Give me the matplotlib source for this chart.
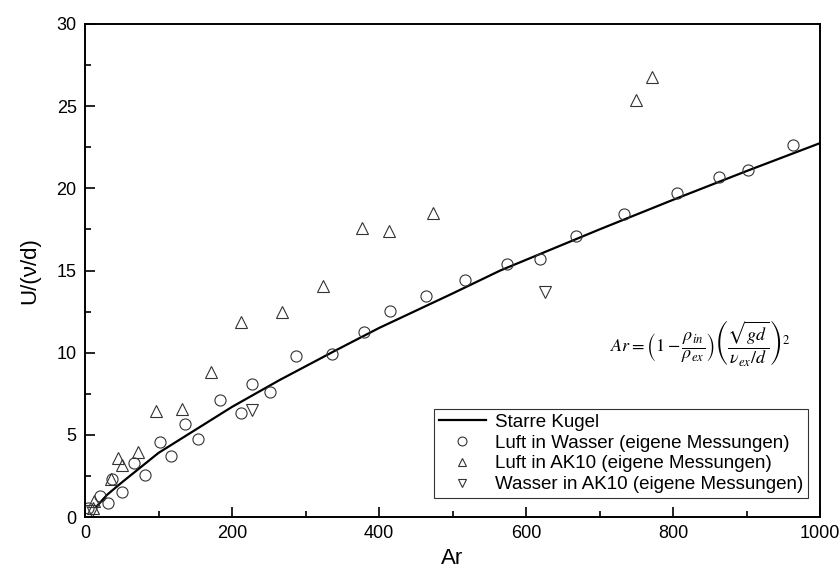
import matplotlib
matplotlib.use("Agg")
import matplotlib.pyplot as plt

plt.rcParams['font.family'] = ['Liberation Sans', 'DejaVu Sans']
plt.rcParams['mathtext.fontset'] = 'stix'

# Starre Kugel (curve)
curve_ar = [15, 30, 50, 75, 100, 150, 200, 265, 342, 400, 500, 565, 700, 800, 900, 1000]
curve_u = [0.6, 1.35, 2.1, 3.0, 3.9, 5.3, 6.7, 8.34, 10.16, 11.5, 13.6, 15.0, 17.5, 19.3, 21.05, 22.75]

# Luft in Wasser
lw_ar = [4.5, 21, 31, 37, 50, 66, 81, 102, 117, 136, 153.5, 183.5, 212, 227.5, 251.6,
         287, 336, 380, 414.6, 463.6, 516.8, 573.6, 619, 667.6, 734, 806, 862, 902, 963]
lw_u = [0.57, 1.3, 0.83, 2.3, 1.5, 3.3, 2.56, 4.55, 3.71, 5.64, 4.77, 7.12, 6.35, 8.1, 7.59,
        9.8, 9.9, 11.28, 12.56, 13.45, 14.42, 15.38, 15.68, 17.12, 18.44, 19.72, 20.7, 21.1, 22.64]

# Luft in AK10
la_ar = [11, 12, 36, 44.5, 51, 72.5, 96.6, 132, 171, 212, 268, 323.8, 377, 414, 473.7, 750, 772]
la_u = [0.53, 0.97, 2.3, 3.6, 3.16, 3.97, 6.45, 6.57, 8.83, 11.85, 12.5, 14.06, 17.6, 17.4, 18.5, 25.4, 26.76]

# Wasser in AK10
wa_ar = [10, 227, 625.8]
wa_u = [0.35, 6.51, 13.7]

fig = plt.figure(figsize=(8.39, 5.72), dpi=100)
ax = fig.add_axes([85/839, 1-517/572, (820-85)/839, (517-24)/572])

mk = dict(linestyle='none', markerfacecolor='none', markeredgecolor='#333333',
          markeredgewidth=0.8, markersize=8)
ax.plot(curve_ar, curve_u, color='black', lw=1.6, label='Starre Kugel')
ax.plot(lw_ar, lw_u, marker='o', label='Luft in Wasser (eigene Messungen)', **mk)
ax.plot(la_ar, la_u, marker='^', label='Luft in AK10 (eigene Messungen)', **mk)
ax.plot(wa_ar, wa_u, marker='v', label='Wasser in AK10 (eigene Messungen)', **mk)

ax.set_xlim(0, 1000)
ax.set_ylim(0, 30)
ax.set_xticks(range(0, 1001, 200))
ax.set_xticks(range(100, 1000, 200), minor=True)
ax.set_yticks(range(0, 31, 5))
ax.set_yticks([2.5 + 5*i for i in range(6)], minor=True)
ax.tick_params(which='both', direction='in', top=False, right=False, labelsize=13, width=1.2)
ax.tick_params(which='major', length=7, pad=6)
ax.tick_params(which='minor', length=4)
for s in ax.spines.values():
    s.set_linewidth(1.4)

ax.set_xlabel('Ar', fontsize=16, labelpad=4)
ax.set_ylabel('U/(ν/d)', fontsize=16, labelpad=12)

ax.text(838, 10.6, r'$Ar=\left(1-\dfrac{\rho_{in}}{\rho_{ex}}\right)\left(\dfrac{\sqrt{gd}}{\nu_{ex}/d}\right)^2$',
        fontsize=13, ha='center', va='center')

leg = ax.legend(loc='lower right', bbox_to_anchor=(0.984, 0.0385), borderaxespad=0,
                fontsize=13.5, frameon=True, fancybox=False, edgecolor='black',
                markerscale=0.8, handlelength=2.5, handletextpad=0.5,
                labelspacing=0.2, borderpad=0.25)
leg.get_frame().set_linewidth(0.8)

fig.savefig('out.png', dpi=100)
